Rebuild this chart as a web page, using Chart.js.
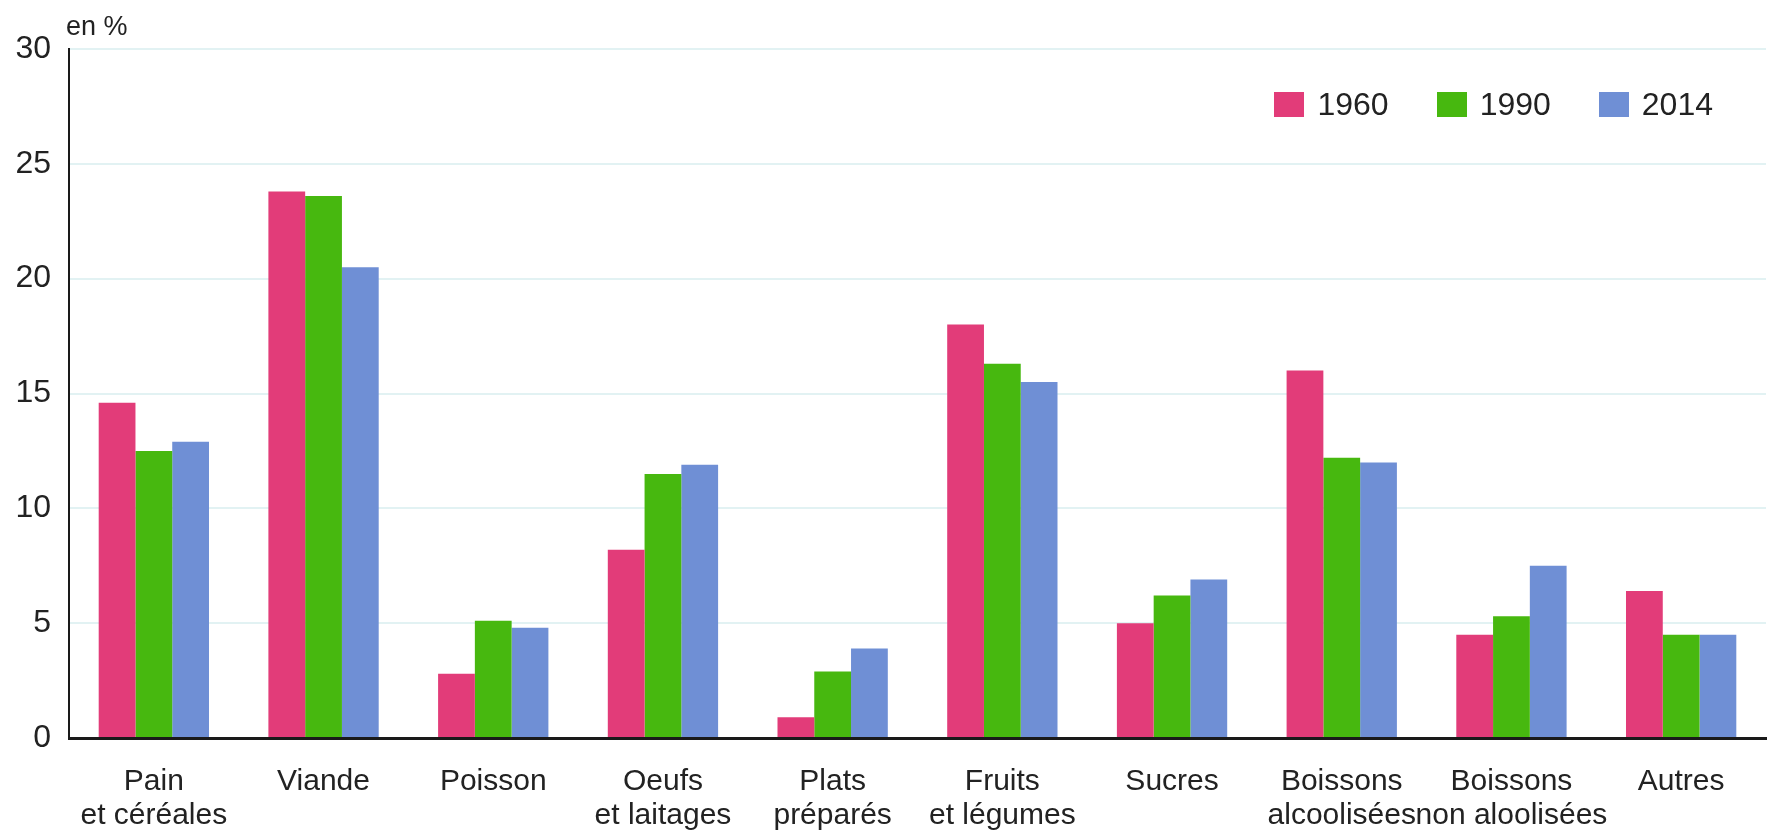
<!DOCTYPE html>
<html>
<head>
<meta charset="utf-8">
<script src="https://cdn.jsdelivr.net/npm/chart.js@4"></script>
<style>
  body { margin: 0; background: #fff; }
  #wrap { position: relative; width: 1773px; height: 832px; }
  #legend { position: absolute; top: 86px; right: 60px; display: flex; align-items: center;
            font-family: "Liberation Sans", Arial, sans-serif; font-size: 32px; color: #222; }
  #legend .item { display: flex; align-items: center; margin-left: 48px; }
  #legend .box { width: 30px; height: 25px; margin-right: 13px; }
</style>
</head>
<body>
<div id="wrap">
  <canvas id="myChart" width="1773" height="832"></canvas>
  <div id="legend"></div>
</div>
<script>
// categories (multi-line labels)
var categories = [
  ["Pain", "et céréales"], "Viande", "Poisson", ["Oeufs", "et laitages"], ["Plats", "préparés"],
  ["Fruits", "et légumes"], "Sucres", ["Boissons", "alcoolisées"], ["Boissons", "non aloolisées"], "Autres"
];
var years = ["1960", "1990", "2014"];
var colors = ["#e23c79", "#47b80f", "#6f8fd5"];

// part of food budget, en %
var v1960 = [14.6, 23.8, 2.8, 8.2, 0.9, 18.0, 5.0, 16.0, 4.5, 6.4];
var v1990 = [12.5, 23.6, 5.1, 11.5, 2.9, 16.3, 6.2, 12.2, 5.3, 4.5];
var v2014 = [12.9, 20.5, 4.8, 11.9, 3.9, 15.5, 6.9, 12.0, 7.5, 4.5];

var yTicks = [0, 5, 10, 15, 20, 25, 30];

var series = [v1960, v1990, v2014];
var datasets = years.map(function (y, i) {
  return {
    label: y,
    data: series[i],
    backgroundColor: colors[i],
    borderWidth: 0,
    barPercentage: 1.0,
    categoryPercentage: 0.65
  };
});

// legend built from the same arrays
var leg = document.getElementById("legend");
years.forEach(function (y, i) {
  var it = document.createElement("div");
  it.className = "item";
  if (i === 0) it.style.marginLeft = "0";
  var b = document.createElement("span");
  b.className = "box";
  b.style.background = colors[i];
  var t = document.createElement("span");
  t.textContent = y;
  it.appendChild(b);
  it.appendChild(t);
  leg.appendChild(it);
});

// "en %" unit label above the y axis
var unitLabel = {
  id: "unitLabel",
  afterDraw: function (chart) {
    var c = chart.ctx, a = chart.chartArea;
    c.save();
    c.font = "27px 'Liberation Sans', Arial, sans-serif";
    c.fillStyle = "#222";
    c.textAlign = "left";
    c.textBaseline = "alphabetic";
    c.fillText("en %", a.left - 3, a.top - 14);
    c.restore();
  }
};

var ctx = document.getElementById("myChart");
var myChart = new Chart(ctx, {
  type: 'bar',
  data: { labels: categories, datasets: datasets },
  plugins: [unitLabel],
  options: {
    responsive: false,
    devicePixelRatio: 1,
    animation: false,
    layout: { padding: { left: 15, right: 7, top: 49, bottom: 0 } },
    plugins: {
      legend: { display: false },
      tooltip: { enabled: false }
    },
    scales: {
      x: {
        afterFit: function (s) { s.height = 94; },
        grid: {
          drawTicks: false,
          color: function (c) { return c.index === categories.length ? "#e4f2f4" : "rgba(0,0,0,0)"; },
          lineWidth: 2
        },
        border: { color: "#1a1a1a", width: 3 },
        ticks: {
          autoSkip: false, maxRotation: 0, minRotation: 0,
          padding: 27,
          color: "#222",
          font: { family: "'Liberation Sans', Arial, sans-serif", size: 30, lineHeight: 1.13 }
        }
      },
      y: {
        min: 0, max: 30,
        afterBuildTicks: function (s) { s.ticks = yTicks.map(function (v) { return { value: v }; }); },
        afterFit: function (s) { s.width = 54; },
        grid: { drawTicks: false, color: "#e2f2f3", lineWidth: 2 },
        border: { color: "#1a1a1a", width: 2 },
        ticks: {
          padding: 18,
          color: "#222",
          font: { family: "'Liberation Sans', Arial, sans-serif", size: 32 }
        }
      }
    }
  }
});
</script>
</body>
</html>
